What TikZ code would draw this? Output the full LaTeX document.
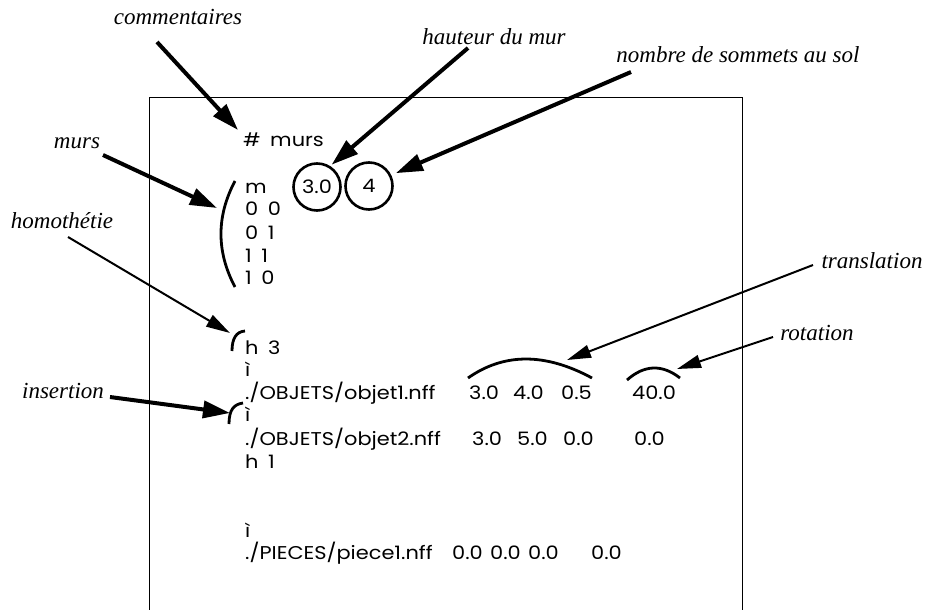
\documentclass[tikz,border=0pt]{standalone}
\usepackage{fontspec}
\setmainfont{Liberation Serif}
\newfontfamily\codefont[FakeStretch=1.13,WordSpace=1.7]{Poppins}
\usetikzlibrary{arrows.meta}

\begin{document}
\begin{tikzpicture}[
  x=1pt, y=-1pt,
  lbl/.style={font=\fontsize{23}{27}\selectfont\itshape, inner sep=0pt, anchor=base},
  code/.style={font=\codefont\fontsize{18.5}{22}\selectfont, inner sep=0pt, anchor=base west},
  ring/.style={circle, draw, line width=2.6pt, minimum size=47pt, inner sep=0pt, font=\codefont\fontsize{18.5}{22}\selectfont},
  brace/.style={line width=2.8pt},
  fat/.style={-{Triangle[length=27pt,width=17pt]}, line width=4pt},
  slim/.style={-{Triangle[length=24pt,width=13pt]}, line width=2pt},
  frame/.style={line width=1pt}
]
\useasboundingbox (0,0) rectangle (950,610);

% Frame
\draw[frame] (149,610) -- (149,97) -- (742,97) -- (742,610);

% File lines
\node[code] (hash) at (243,146) {\# murs};
\node[code] (m) at (245,193) {m};
\node[ring] (h30) at (317,187) {3.0};
\node[ring] (c4) at (369,186) {4};
\node[code] (p1) at (245,215) {0 0};
\node[code] (p2) at (245,239) {0 1};
\node[code] (p3) at (245,262) {1 1};
\node[code] (p4) at (245,284) {1 0};
\node[code] (h3) at (245,354) {h 3};
\node[code] (i1) at (245,376) {ì};
\node[code] (obj1) at (245,399) {./OBJETS/objet1.nff};
\node[code] (i2) at (245,421) {ì};
\node[code] (obj2) at (245,445) {./OBJETS/objet2.nff};
\node[code] (h1) at (245,468) {h 1};
\node[code] (i3) at (245,537) {ì};
\node[code] (pie1) at (245,559) {./PIECES/piece1.nff};

% Values
\node[code] (o1x) at (469,399) {3.0};
\node[code] (o1y) at (513,399) {4.0};
\node[code] (o1z) at (561,399) {0.5};
\node[code] (o1r) at (632,399) {40.0};
\node[code] (o2x) at (472,445) {3.0};
\node[code] (o2y) at (517,445) {5.0};
\node[code] (o2z) at (563,445) {0.0};
\node[code] (o2r) at (634,445) {0.0};
\node[code] (p1x) at (452,559) {0.0};
\node[code] (p1y) at (490,559) {0.0};
\node[code] (p1z) at (528,559) {0.0};
\node[code] (p1r) at (591,559) {0.0};

% Brackets
\draw[brace] (235,181) .. controls (216.3,216.3) and (216.3,251.7) .. (235,287);
\draw[brace] (245,331) .. controls (236.3,331.7) and (232,338.3) .. (232,351);
\draw[brace] (243,403) .. controls (233.7,404.3) and (229,410) .. (229,424);
\draw[brace] (468,378) .. controls (504,352.7) and (545.3,352.7) .. (592,378);
\draw[brace] (627,380) .. controls (644.3,364.7) and (662,364) .. (680,378);

% Labels
\node[lbl] (comm) at (178,25) {commentaires};
\node[lbl] (haut) at (494,45) {hauteur du mur};
\node[lbl] (nomb) at (738,63) {nombre de sommets au sol};
\node[lbl] (murs) at (77,148) {murs};
\node[lbl] (homo) at (62,228) {homothétie};
\node[lbl] (inse) at (63,398) {insertion};
\node[lbl] (tran) at (872,268) {translation};
\node[lbl] (rota) at (817,340) {rotation};

% Arrow ends
\coordinate (comm-from) at (157,42);
\coordinate (haut-from) at (468,48);
\coordinate (nomb-from) at (631,72);
\coordinate (murs-from) at (103,155);
\coordinate (homo-from) at (68,237);
\coordinate (inse-from) at (110,397);
\coordinate (tran-from) at (813,265);
\coordinate (rota-from) at (773,337);
\coordinate (hash-to) at (238,130);
\coordinate (murs-to) at (217,208);
\coordinate (homo-to) at (230,333);
\coordinate (inse-to) at (230,413);
\coordinate (tran-to) at (567,360);
\coordinate (rota-to) at (677,369);

% Arrows
\draw[fat] (comm-from) -- (hash-to);
\draw[fat, shorten >=2pt] (haut-from) -- (h30.58);
\draw[fat, shorten >=5pt] (nomb-from) -- (c4.26);
\draw[fat] (murs-from) -- (murs-to);
\draw[slim] (homo-from) -- (homo-to);
\draw[fat] (inse-from) -- (inse-to);
\draw[slim] (tran-from) -- (tran-to);
\draw[slim] (rota-from) -- (rota-to);
\end{tikzpicture}
\end{document}
